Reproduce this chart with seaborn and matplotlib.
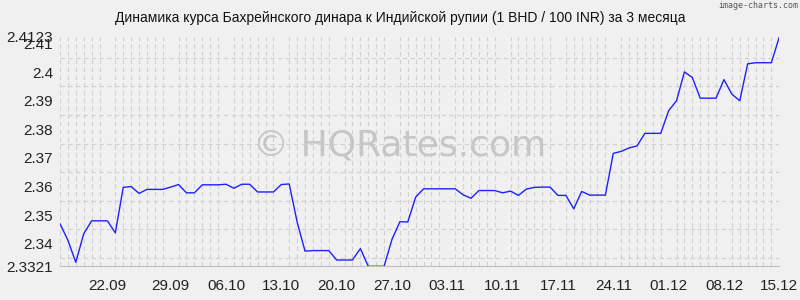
import numpy as np
import pandas as pd
import matplotlib
matplotlib.use("Agg")
import matplotlib.pyplot as plt
from matplotlib.ticker import FixedLocator, MultipleLocator
import seaborn as sns

title = "Динамика курса Бахрейнского динара к Индийской рупии (1 BHD / 100 INR) за 3 месяца"

# daily rates, 15.09 .. 15.12
rates = [
    2.3470, 2.3412, 2.3335, 2.3435, 2.3480, 2.3480, 2.3480, 2.3438, 2.3597, 2.3600,
    2.3576, 2.3590, 2.3590, 2.3590, 2.3598, 2.3607, 2.3578, 2.3578, 2.3606, 2.3606,
    2.3606, 2.3608, 2.3594, 2.3608, 2.3608, 2.3581, 2.3581, 2.3581, 2.3607, 2.3609,
    2.3476, 2.3374, 2.3376, 2.3376, 2.3376, 2.3343, 2.3343, 2.3343, 2.3383, 2.3321,
    2.3321, 2.3321, 2.3415, 2.3477, 2.3476, 2.3563, 2.3592, 2.3592, 2.3592, 2.3592,
    2.3592, 2.3571, 2.3559, 2.3586, 2.3586, 2.3586, 2.3578, 2.3584, 2.3569, 2.3591,
    2.3597, 2.3598, 2.3598, 2.3569, 2.3569, 2.3522, 2.3583, 2.3570, 2.3570, 2.3570,
    2.3716, 2.3723, 2.3735, 2.3742, 2.3786, 2.3786, 2.3786, 2.3865, 2.3900, 2.4001,
    2.3981, 2.3909, 2.3909, 2.3909, 2.3974, 2.3923, 2.3900, 2.4029, 2.4033, 2.4033,
    2.4033, 2.4123,
]
days = list(range(len(rates)))

x_tick_days = [6, 14, 21, 28, 35, 42, 49, 56, 63, 70, 77, 84, 91]
x_tick_labels = ["22.09", "29.09", "06.10", "13.10", "20.10", "27.10", "03.11",
                 "10.11", "17.11", "24.11", "01.12", "08.12", "15.12"]
y_ticks = [2.3321, 2.34, 2.35, 2.36, 2.37, 2.38, 2.39, 2.40, 2.41, 2.4123]
y_tick_labels = ["2.3321", "2.34", "2.35", "2.36", "2.37", "2.38", "2.39", "2.4", "2.41", "2.4123"]
y_min, y_max = 2.3321, 2.4123

df = pd.DataFrame({"day": days, "rate": rates})

sns.set_theme(style="white")
plt.rcParams["font.family"] = ["Liberation Sans", "DejaVu Sans"]

bg = "#f0f0f0"
fig = plt.figure(figsize=(8, 3), dpi=100, facecolor=bg)
ax = fig.add_axes([0.075, 0.1123, 0.8991, 0.7644])
ax.set_facecolor(bg)

# watermark
fig.text(0.5, 1 - 146 / 300, "© HQRates.com", family="DejaVu Sans", fontsize=26,
         color="#c6c6c6", ha="center", va="center", zorder=0)

sns.lineplot(data=df, x="day", y="rate", ax=ax, color="#2020ff", linewidth=1.0, zorder=5)

ax.set_xlim(0, len(rates) - 1)
ax.set_ylim(y_min, y_max)

# grid: daily vertical, 0.005 horizontal
ax.xaxis.set_minor_locator(MultipleLocator(1))
ax.yaxis.set_minor_locator(FixedLocator(list(np.arange(2.335, 2.4101, 0.005)) + [y_max]))
ax.grid(which="minor", color="#d0d0d0", linestyle=(0, (4, 3)), linewidth=0.8)
ax.grid(which="major", visible=False)

ax.set_xticks(x_tick_days)
ax.set_xticklabels(x_tick_labels)
ax.set_yticks(y_ticks)
ax.set_yticklabels(y_tick_labels)

ax.tick_params(axis="x", which="major", length=0, pad=9, labelsize=11, labelcolor="#222222")
ax.tick_params(axis="x", which="minor", length=4, width=0.8, color="#cccccc", direction="out")
ax.tick_params(axis="y", which="major", length=0, pad=5, labelsize=11, labelcolor="#222222")
ax.tick_params(axis="y", which="minor", length=0)

for s in ["top", "right"]:
    ax.spines[s].set_visible(False)
ax.spines["left"].set_visible(False)
ax.spines["bottom"].set_color("#c0c0c0")
ax.spines["bottom"].set_linewidth(0.8)

ax.set_xlabel("")
ax.set_ylabel("")

fig.text(0.5, 1 - 18 / 300, title, fontsize=10, color="#111111", ha="center", va="center")
fig.text(798 / 800, 1 - 1.5 / 300, "image-charts.com", family="DejaVu Sans Mono",
         fontsize=6, color="#555555", ha="right", va="top")

fig.savefig("out.png", dpi=100, facecolor=bg)
